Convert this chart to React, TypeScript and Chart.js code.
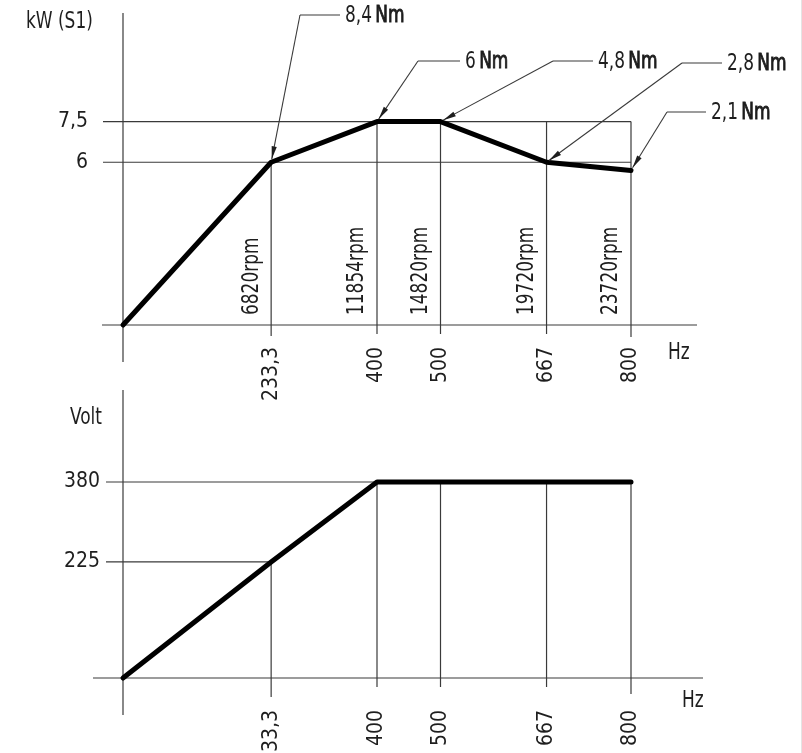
import React, { useEffect, useRef } from 'react';
import { Chart, registerables } from 'chart.js';

Chart.register(...registerables);

// ---- data ----
const HZ = [0, 233.3, 400, 500, 667, 800];
const HZ_LABELS = ['0', '233,3', '400', '500', '667', '800'];
const KW = [0, 6, 7.5, 7.5, 6, 5.7];
const KW_TICKS = [6, 7.5];
const KW_TICK_LABELS = ['6', '7,5'];
const RPM = [0, 6820, 11854, 14820, 19720, 23720];
const TORQUE = ['', '8,4', '6', '4,8', '2,8', '2,1'];
const VOLT = [0, 225, 380, 380, 380, 380];
const VOLT_TICKS = [225, 380];
const VOLT_TICK_LABELS = ['225', '380'];

// ---- style / layout ----
const W = 802;
const H = 753;
const FONT = "'DejaVu Sans Condensed', 'DejaVu Sans', sans-serif";
const INK = '#1e1e1e';
const LINE = '#3a3a3a';
const FS = 23;
const TICK_FS = 21;
const SX = 0.82; // horizontal squeeze to mimic the narrow drafting font

// leader elbows for the torque callouts (page pixels)
const LEADERS = [
  null,
  { ex: 300, ey: 15, len: 40 },
  { ex: 418, ey: 61, len: 42 },
  { ex: 553, ey: 61, len: 40 },
  { ex: 682, ey: 63, len: 40 },
  { ex: 667, ey: 112, len: 39 },
];

function seg(ctx: CanvasRenderingContext2D, x1: number, y1: number, x2: number, y2: number) {
  ctx.beginPath();
  ctx.moveTo(x1, y1);
  ctx.lineTo(x2, y2);
  ctx.stroke();
}

function arrow(ctx: CanvasRenderingContext2D, fx: number, fy: number, tx: number, ty: number) {
  const a = Math.atan2(ty - fy, tx - fx);
  const c = Math.cos(a);
  const s = Math.sin(a);
  const px = tx - c * 3;
  const py = ty - s * 3;
  seg(ctx, fx, fy, px, py);
  const L = 13;
  const w = 2.6;
  ctx.beginPath();
  ctx.moveTo(px, py);
  ctx.lineTo(px - L * c + w * s, py - L * s - w * c);
  ctx.lineTo(px - L * c - w * s, py - L * s + w * c);
  ctx.closePath();
  ctx.fill();
}

function txt(
  ctx: CanvasRenderingContext2D,
  s: string,
  x: number,
  y: number,
  opts: { rot?: boolean; baseline?: CanvasTextBaseline; heavy?: boolean } = {}
) {
  ctx.save();
  ctx.translate(x, y);
  if (opts.rot) ctx.rotate(-Math.PI / 2);
  ctx.scale(SX, 1);
  ctx.font = `${FS}px ${FONT}`;
  ctx.textAlign = 'left';
  ctx.textBaseline = opts.baseline || 'middle';
  ctx.fillText(s, 0, 0);
  if (opts.heavy) {
    ctx.lineWidth = 0.9;
    ctx.strokeStyle = ctx.fillStyle as string;
    ctx.strokeText(s, 0, 0);
  }
  const w = ctx.measureText(s).width * SX;
  ctx.restore();
  return w;
}

const topPlugin = {
  id: 'topDecor',
  beforeDatasetsDraw(chart: any) {
    const { ctx } = chart;
    const x = chart.scales.x;
    const y = chart.scales.y;
    const x0 = x.getPixelForValue(0);
    const y0 = y.getPixelForValue(0);
    const last = HZ.length - 1;
    const xEnd = x.getPixelForValue(HZ[last]);
    const kMax = Math.max(...KW);
    const knee = KW.indexOf(kMax);
    ctx.save();
    ctx.strokeStyle = LINE;
    ctx.lineWidth = 1.2;
    seg(ctx, x0, 13, x0, 362);
    seg(ctx, 102, y0, 697, y0);
    KW_TICKS.forEach((v) => {
      const py = y.getPixelForValue(v);
      seg(ctx, 103, py, xEnd, py);
    });
    for (let i = 1; i <= last; i++) {
      const px = x.getPixelForValue(HZ[i]);
      const top = i <= knee ? KW[i] : kMax;
      const ext = i === 1 ? 11 : i === last ? 12 : 9;
      seg(ctx, px, y.getPixelForValue(top), px, y0 + ext);
    }
    ctx.restore();
  },
  afterDraw(chart: any) {
    const { ctx } = chart;
    const x = chart.scales.x;
    const y = chart.scales.y;
    ctx.save();
    ctx.fillStyle = INK;
    ctx.strokeStyle = LINE;
    ctx.lineWidth = 1.1;
    txt(ctx, 'kW (S1)', 26, 22);
    txt(ctx, 'Hz', 668, 353);
    // rpm labels
    for (let i = 1; i < HZ.length; i++) {
      const px = x.getPixelForValue(HZ[i]);
      txt(ctx, `${RPM[i]}rpm`, px - 8, 315, { rot: true, baseline: 'bottom' });
    }
    // torque callouts
    for (let i = 1; i < HZ.length; i++) {
      const L = LEADERS[i]!;
      const px = x.getPixelForValue(HZ[i]);
      const py = y.getPixelForValue(KW[i]);
      ctx.strokeStyle = LINE;
      ctx.lineWidth = 1.1;
      seg(ctx, L.ex, L.ey, L.ex + L.len, L.ey);
      arrow(ctx, L.ex, L.ey, px, py);
      const tx = L.ex + L.len + 5;
      const wNum = txt(ctx, TORQUE[i] + ' ', tx, L.ey + 1);
      txt(ctx, 'Nm', tx + wNum - 2, L.ey + 1, { heavy: true });
    }
    ctx.restore();
  },
};

const bottomPlugin = {
  id: 'bottomDecor',
  beforeDatasetsDraw(chart: any) {
    const { ctx } = chart;
    const x = chart.scales.x;
    const y = chart.scales.y;
    const x0 = x.getPixelForValue(0);
    const y0 = y.getPixelForValue(0);
    const last = HZ.length - 1;
    ctx.save();
    ctx.strokeStyle = LINE;
    ctx.lineWidth = 1.2;
    seg(ctx, x0, 390, x0, 715);
    seg(ctx, 93, y0, 703, y0);
    VOLT_TICKS.forEach((v) => {
      const i = VOLT.indexOf(v);
      const py = y.getPixelForValue(v);
      seg(ctx, 106, py, x.getPixelForValue(HZ[i]), py);
    });
    for (let i = 1; i <= last; i++) {
      const px = x.getPixelForValue(HZ[i]);
      const ext = i === 1 ? 19 : i === last ? 16 : 9;
      seg(ctx, px, y.getPixelForValue(VOLT[i]), px, y0 + ext);
    }
    ctx.restore();
  },
  afterDraw(chart: any) {
    const { ctx } = chart;
    ctx.save();
    ctx.fillStyle = INK;
    txt(ctx, 'Volt', 70, 418);
    txt(ctx, 'Hz', 682, 701);
    ctx.restore();
  },
};

function xAxis(pad: number, height: number) {
  return {
    type: 'linear' as const,
    min: 0,
    max: 800,
    afterBuildTicks: (s: any) => {
      s.ticks = HZ.slice(1).map((v) => ({ value: v }));
    },
    afterFit: (s: any) => {
      s.height = height;
    },
    grid: { display: false, drawTicks: false },
    border: { display: false },
    ticks: {
      autoSkip: false,
      minRotation: 90,
      maxRotation: 90,
      padding: pad,
      color: INK,
      font: { family: FONT, size: TICK_FS },
      callback: (v: any) => HZ_LABELS[HZ.indexOf(Number(v))],
    },
  };
}

function yAxis(min: number, max: number, ticks: number[], labels: string[], pad: number) {
  return {
    type: 'linear' as const,
    min,
    max,
    afterBuildTicks: (s: any) => {
      s.ticks = ticks.map((v) => ({ value: v }));
    },
    afterFit: (s: any) => {
      s.width = 123;
    },
    grid: { display: false, drawTicks: false },
    border: { display: false },
    ticks: {
      padding: pad,
      color: INK,
      font: { family: FONT, size: TICK_FS },
      callback: (v: any) => labels[ticks.indexOf(Number(v))],
    },
  };
}

const curve = (vals: number[]) => ({
  data: HZ.map((hz, i) => ({ x: hz, y: vals[i] })),
  borderColor: '#000',
  borderWidth: 5,
  borderCapStyle: 'round' as const,
  borderJoinStyle: 'round' as const,
  pointRadius: 0,
  tension: 0,
  fill: false,
  clip: false as any,
});

export default function App() {
  const r1 = useRef<HTMLCanvasElement>(null);
  const r2 = useRef<HTMLCanvasElement>(null);

  useEffect(() => {
    const c1 = new Chart(r1.current!, {
      type: 'line',
      data: { datasets: [curve(KW)] },
      options: {
        animation: false,
        responsive: false,
        events: [],
        layout: { padding: { top: 108, right: 171, left: 0, bottom: 0 } },
        plugins: { legend: { display: false }, tooltip: { enabled: false } },
        scales: {
          x: xAxis(22, H - 325) as any,
          y: yAxis(0, 8, KW_TICKS, KW_TICK_LABELS, 35) as any,
        },
      },
      plugins: [topPlugin],
    });
    const c2 = new Chart(r2.current!, {
      type: 'line',
      data: { datasets: [curve(VOLT)] },
      options: {
        animation: false,
        responsive: false,
        events: [],
        layout: { padding: { top: 482, right: 171, left: 0, bottom: 0 } },
        plugins: { legend: { display: false }, tooltip: { enabled: false } },
        scales: {
          x: xAxis(32, H - 678) as any,
          y: yAxis(0, 380, VOLT_TICKS, VOLT_TICK_LABELS, 23) as any,
        },
      },
      plugins: [bottomPlugin],
    });
    return () => {
      c1.destroy();
      c2.destroy();
    };
  }, []);

  return (
    <div
      style={{
        position: 'absolute',
        left: 0,
        top: 0,
        width: W,
        height: H,
        background: '#fff',
        overflow: 'hidden',
      }}
    >
      <canvas ref={r1} width={W} height={H} style={{ position: 'absolute', left: 0, top: 0 }} />
      <canvas ref={r2} width={W} height={H} style={{ position: 'absolute', left: 0, top: 0 }} />
      <div style={{ position: 'absolute', left: W - 1, top: 0, width: 1, height: H, background: '#e4e4e4' }} />
    </div>
  );
}
